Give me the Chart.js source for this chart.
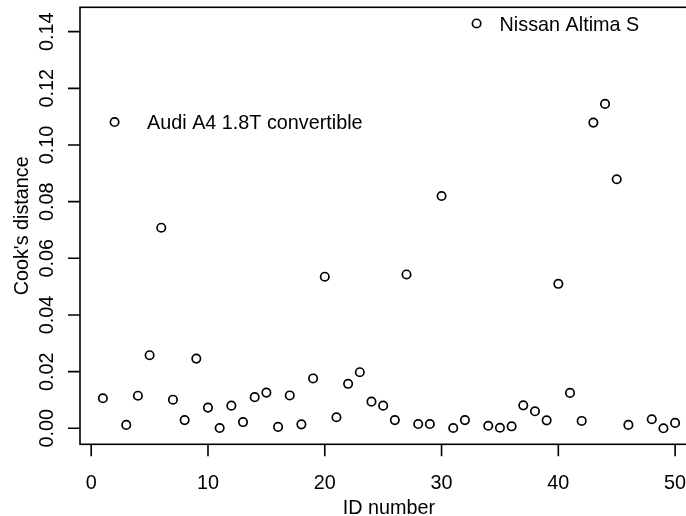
<!DOCTYPE html>
<html>
<head>
<meta charset="utf-8">
<script src="https://cdn.jsdelivr.net/npm/chart.js@4.4.1/dist/chart.umd.min.js"></script>
<style>
  html, body { margin: 0; padding: 0; overflow: hidden; background: #fff; }
  canvas { display: block; }
</style>
</head>
<body>
<canvas id="cooksChart" width="710" height="516"></canvas>
<script>
const ids = [1, 2, 3, 4, 5, 6, 7, 8, 9, 10, 11, 12, 13, 14, 15, 16, 17, 18, 19, 20,
  21, 22, 23, 24, 25, 26, 27, 28, 29, 30, 31, 32, 33, 34, 35, 36, 37, 38, 39, 40,
  41, 42, 43, 44, 45, 46, 47, 48, 49, 50];
const cooksD = [0.0106, 0.1081, 0.0012, 0.0115, 0.0258, 0.0708, 0.0101, 0.0029, 0.0246, 0.0073,
  0.0001, 0.0080, 0.0022, 0.0110, 0.0126, 0.0005, 0.0116, 0.0014, 0.0176, 0.0535,
  0.0039, 0.0157, 0.0198, 0.0094, 0.0080, 0.0029, 0.0543, 0.0015, 0.0015, 0.0820,
  0.0001, 0.0029, 0.1429, 0.0009, 0.0002, 0.0007, 0.0081, 0.0060, 0.0028, 0.0510,
  0.0125, 0.0026, 0.1079, 0.1145, 0.0879, 0.0012, null, 0.0032, 0.0000, 0.0019];
const xTicks = [0, 10, 20, 30, 40, 50];
const yTicks = [0, 0.02, 0.04, 0.06, 0.08, 0.10, 0.12, 0.14];
const yTickLabels = ['0.00', '0.02', '0.04', '0.06', '0.08', '0.10', '0.12', '0.14'];
const labelIds = [2, 33];
const labelNames = ['Audi A4 1.8T convertible', 'Nissan Altima S'];

const FONT = '19.8px "Liberation Sans", Arial, sans-serif';

// R-style box, ticks and rotated labels drawn from the chart's scales
const baseAxes = {
  id: 'baseAxes',
  afterDraw(chart) {
    const { ctx, chartArea: a, scales: { x, y } } = chart;
    ctx.save();
    ctx.strokeStyle = '#000';
    ctx.lineWidth = 1.6;
    ctx.strokeRect(a.left, a.top, a.right - a.left, a.bottom - a.top);

    ctx.beginPath();
    xTicks.forEach(v => {
      const px = x.getPixelForValue(v);
      ctx.moveTo(px, a.bottom);
      ctx.lineTo(px, a.bottom + 12);
    });
    yTicks.forEach(v => {
      const py = y.getPixelForValue(v);
      ctx.moveTo(a.left, py);
      ctx.lineTo(a.left - 12, py);
    });
    ctx.stroke();

    ctx.fillStyle = '#000';
    ctx.font = FONT;
    ctx.textAlign = 'center';
    ctx.textBaseline = 'alphabetic';
    xTicks.forEach(v => ctx.fillText(String(v), x.getPixelForValue(v), 488.5));
    ctx.fillText('ID number', (a.left + a.right) / 2, 513.5);

    yTicks.forEach((v, i) => {
      ctx.save();
      ctx.translate(53.3, y.getPixelForValue(v));
      ctx.rotate(-Math.PI / 2);
      ctx.fillText(yTickLabels[i], 0, 0);
      ctx.restore();
    });
    ctx.save();
    ctx.translate(28.3, (a.top + a.bottom) / 2);
    ctx.rotate(-Math.PI / 2);
    ctx.fillText("Cook's distance", 0, 0);
    ctx.restore();

    // labels for the flagged observations
    const offsets = [32.5, 23];
    ctx.textAlign = 'left';
    labelIds.forEach((id, i) => {
      const px = x.getPixelForValue(id);
      const py = y.getPixelForValue(cooksD[id - 1]);
      ctx.fillText(labelNames[i], px + offsets[i], py + 7.4);
    });
    ctx.restore();
  }
};

const points = ids.map((id, i) => ({ x: id, y: cooksD[i] })).filter(p => p.y !== null);

new Chart(document.getElementById('cooksChart'), {
  type: 'scatter',
  data: {
    datasets: [{
      data: points,
      pointStyle: 'circle',
      pointRadius: 4.2,
      pointHoverRadius: 4.2,
      pointBorderWidth: 1.7,
      borderColor: '#000',
      backgroundColor: 'rgba(0,0,0,0)'
    }]
  },
  options: {
    responsive: false,
    animation: false,
    devicePixelRatio: 1,
    layout: { padding: { left: 80, right: 12, top: 7.3, bottom: 71.7 } },
    plugins: { legend: { display: false }, tooltip: { enabled: false } },
    scales: {
      x: { type: 'linear', display: false, min: -0.96, max: 51.96 },
      y: { type: 'linear', display: false, min: -0.00565, max: 0.1486 }
    }
  },
  plugins: [baseAxes]
});
</script>
</body>
</html>
